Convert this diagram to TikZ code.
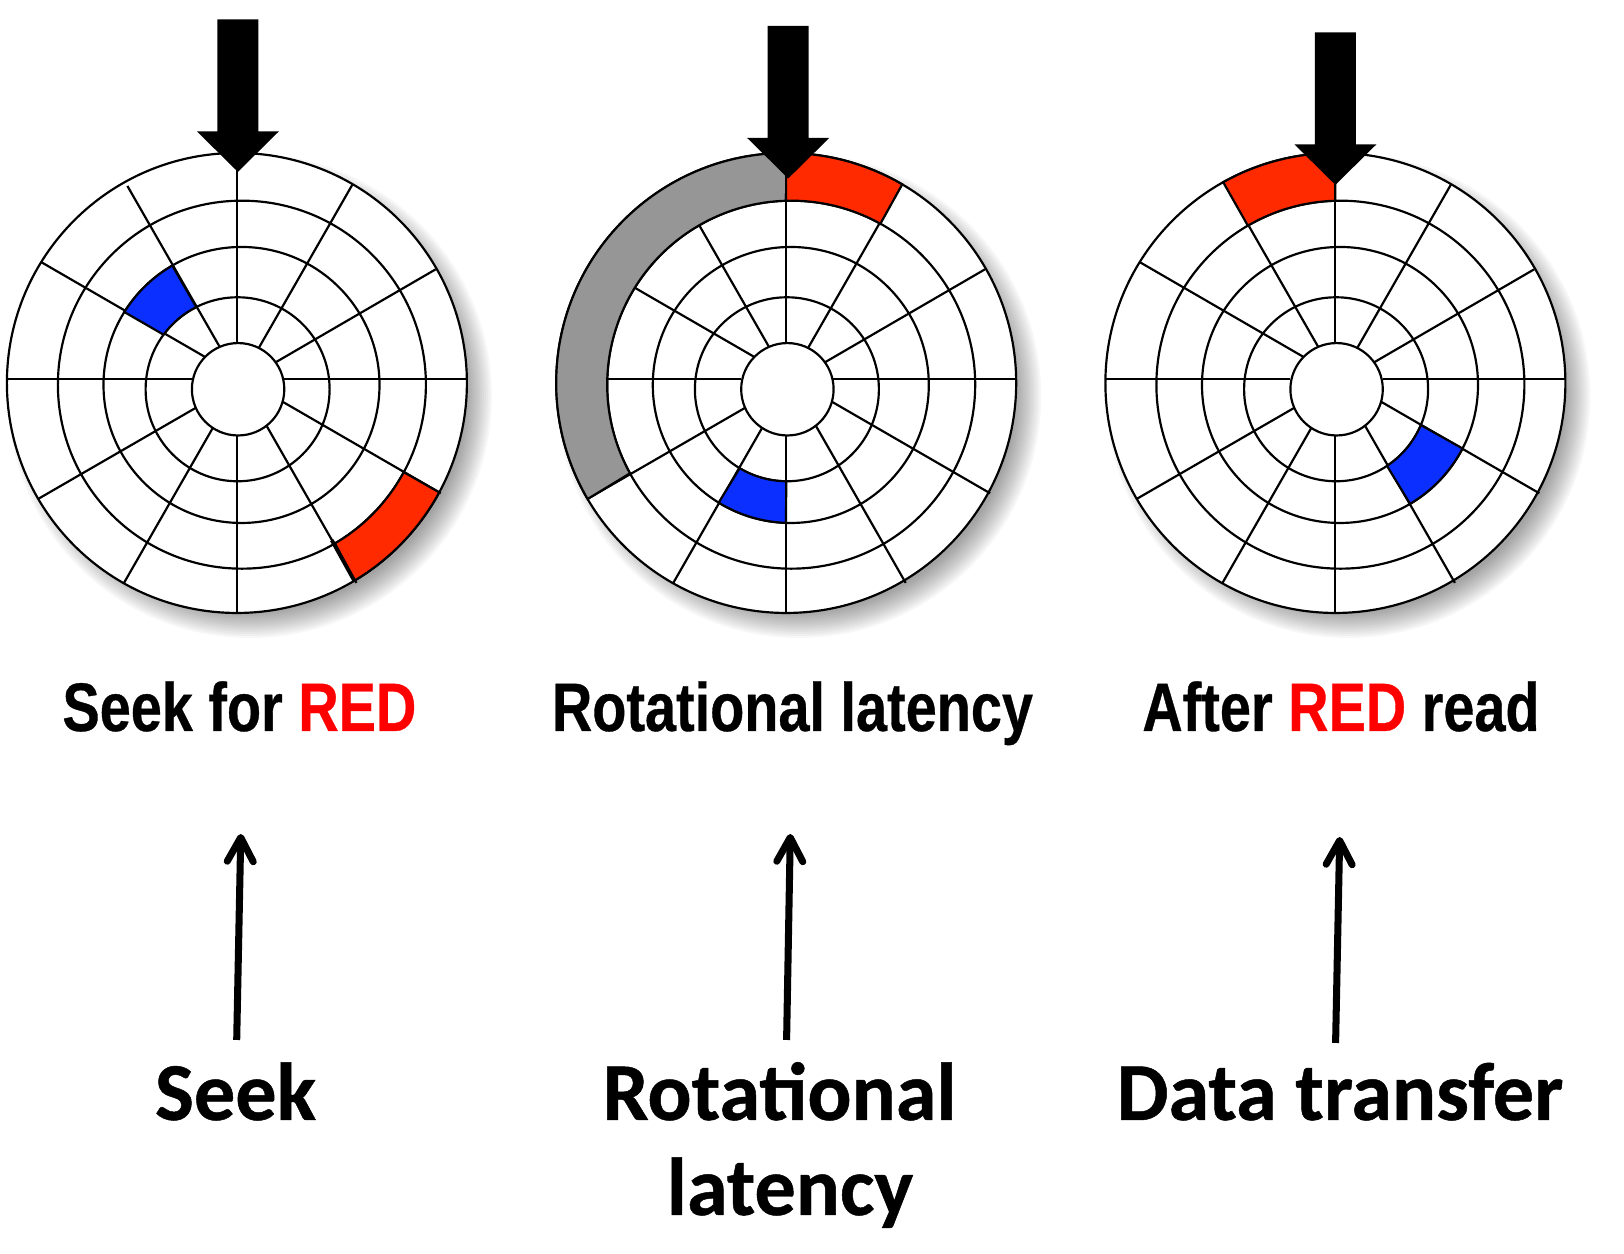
\documentclass[tikz,border=0pt]{standalone}
\usepackage{fontspec}
\usetikzlibrary{arrows.meta}
\newfontfamily\titlefont[FakeStretch=0.815, BoldFeatures={FakeBold=0.5}]{Liberation Sans}
\newfontfamily\notefont[BoldFeatures={FakeBold=0.6}]{Carlito}
\definecolor{bandred}{HTML}{FF2A00}
\definecolor{bandblue}{HTML}{0A2FFF}
\definecolor{bandgray}{HTML}{969696}
\tikzset{
  diskline/.style={black, line width=0.62pt},
  band/.style={diskline, fill=#1},
  titletext/.style={anchor=base, inner sep=0pt, font=\titlefont\bfseries\fontsize{19.5}{23}\selectfont},
  notetext/.style={anchor=base, inner sep=0pt, font=\notefont\bfseries\fontsize{23.4}{27}\selectfont},
  uparrow/.style={line width=2pt, -{Straight Barb[length=2.4mm, width=2.6mm, round]}}
}
% one platter, drawn round its vertical spoke
\newcommand{\platter}{
  \foreach \s in {2.16,2.18,...,2.42}
    \fill[black, opacity=0.03] (0.13, 8.58) circle (\s);
  \coordinate (oc) at (0, 8.71);
  \coordinate (bc) at (0.05, 8.693);
  \coordinate (cc) at (0.046, 8.69);
  \coordinate (dc) at (0.007, 8.647);
  \coordinate (hc) at (0.012, 8.647);
  \filldraw[diskline, fill=white] (oc) circle (2.30);
  \draw[diskline] (bc) circle (1.84);
  \draw[diskline] (cc) circle (1.38);
  \draw[diskline] (dc) circle (0.92);
  \foreach \a/\b/\c/\d in {-1.095/10.68/-0.175/9.076, 1.157/10.697/0.221/9.064,
      -1.956/9.918/-0.32/8.971, 1.987/9.846/0.393/8.92,
      -1.983/7.553/-0.417/8.458, 2.039/7.607/0.461/8.52,
      -1.129/6.711/-0.244/8.255, 1.195/6.711/0.30/8.276,
      0/11.004/0/9.101, 0/8.184/0/6.416,
      -2.30/8.752/-0.451/8.752, 0.472/8.752/2.297/8.752}
    \draw[diskline] (\a, \b) -- (\c, \d);
  \filldraw[diskline, fill=white] (hc) circle (0.462);
}
% band between two rings: colour, outer centre/radius/angles, inner centre/radius/angles
\newcommand{\diskband}[9]{
  \filldraw[band=#1] ([shift={(#4:#3)}]#2) arc (#4:#5:#3)
    -- ([shift={(#9:#7)}]#6) arc (#9:#8:#7) -- cycle;
}
\newcommand{\pointer}[2]{
  \fill[black, shift={(#1, #2)}] (-0.205, 0) -- (0.205, 0) -- (0.205, -1.12) -- (0.41, -1.12)
    -- (0, -1.525) -- (-0.41, -1.12) -- (-0.205, -1.12) -- cycle;
}

\begin{document}
\begin{tikzpicture}
  \useasboundingbox (0, 0) rectangle (16.24, 12.54);

  % first disk
  \begin{scope}[xshift=2.369cm]
    \platter
    \diskband{bandred}{oc}{2.30}{-28.4}{-59.3}{bc}{1.84}{-28.4}{-59.6}
    \draw[black, line width=1.1pt] (-59.3:2.30) ++(0, 8.71) -- ++(-0.225, 0.405);
    \diskband{bandblue}{cc}{1.38}{120.1}{148.1}{dc}{0.92}{116.7}{143.6}
    \pointer{0.01}{12.346}
  \end{scope}

  % second disk
  \begin{scope}[xshift=7.862cm]
    \platter
    \diskband{bandgray}{oc}{2.30}{90}{210.3}{bc}{1.84}{91.6}{208.8}
    \diskband{bandred}{oc}{2.30}{90}{59.7}{bc}{1.84}{91.6}{61}
    \diskband{bandblue}{cc}{1.38}{268}{238.5}{dc}{0.92}{269.6}{239.1}
    \pointer{0.02}{12.28}
  \end{scope}

  % third disk
  \begin{scope}[xshift=13.354cm]
    \platter
    \diskband{bandred}{oc}{2.30}{90}{119.2}{bc}{1.84}{91.6}{120.2}
    \diskband{bandblue}{cc}{1.38}{-27.4}{-59.5}{dc}{0.92}{-22.9}{-56.4}
    \pointer{0}{12.216}
  \end{scope}

  \node[titletext] (seekfor) at (2.394, 5.23) {Seek for \textcolor{red}{RED}};
  \node[titletext] (rotlat) at (7.925, 5.23) {Rotational latency};
  \node[titletext] (afterred) at (13.41, 5.23) {After \textcolor{red}{RED} read};

  \node[notetext] (seek) at (2.356, 1.34) {Seek};
  \node[notetext] (rotational) at (7.795, 1.34) {Rotational};
  \node[notetext] (latency) at (7.90, 0.39) {latency};
  \node[notetext] (transfer) at (13.40, 1.34) {Data transfer};

  \coordinate (seekfoot) at (2.367, 2.14);
  \coordinate (seektip) at (2.408, 4.2);
  \coordinate (rotfoot) at (7.866, 2.14);
  \coordinate (rottip) at (7.903, 4.2);
  \coordinate (datafoot) at (13.356, 2.11);
  \coordinate (datatip) at (13.397, 4.17);
  \draw[uparrow] (seekfoot) -- (seektip);
  \draw[uparrow] (rotfoot) -- (rottip);
  \draw[uparrow] (datafoot) -- (datatip);
\end{tikzpicture}
\end{document}
